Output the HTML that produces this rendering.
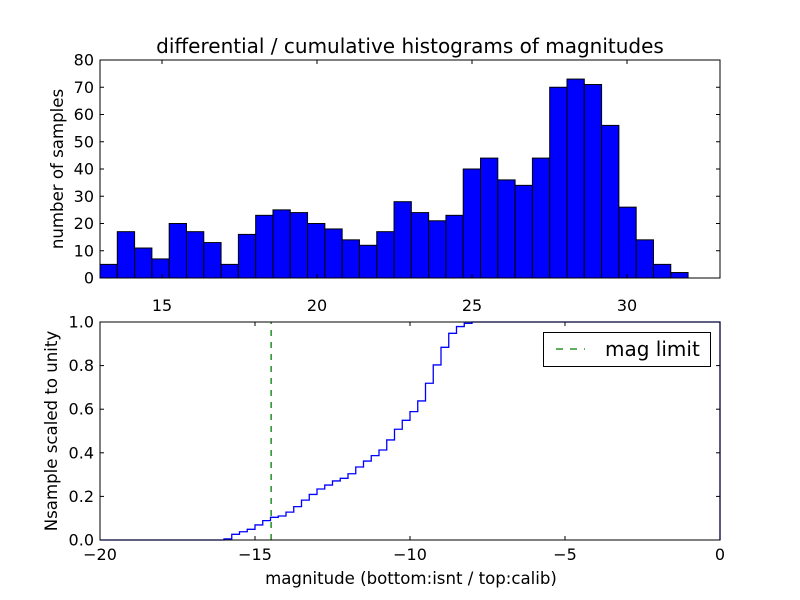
<!DOCTYPE html>
<html><head><meta charset="utf-8"><style>
body{margin:0;background:#fff}
svg{display:block;font-family:"DejaVu Sans","Liberation Sans",sans-serif}
</style></head><body>
<svg id="fig" width="800" height="600" viewBox="0 0 800 600">
<rect width="800" height="600" fill="#fff"/>
<g id="topg"></g>
<g id="botg"></g>
</svg>
<script>
const histCounts=[5,17,11,7,20,17,13,5,16,23,25,24,20,18,14,12,17,28,24,21,23,40,44,36,34,44,70,73,71,56,26,14,5,2];
const histBinStart=13.0;
const histBinEnd=31.97;
const topXTicks=[15,20,25,30];
const topYTicks=[0,10,20,30,40,50,60,70,80];
const cdfLevels=[0.005,0.026,0.038,0.049,0.069,0.089,0.104,0.110,0.128,0.153,0.183,0.209,0.234,0.252,0.271,0.283,0.304,0.335,0.362,0.387,0.413,0.459,0.508,0.549,0.589,0.638,0.719,0.803,0.884,0.948,0.979,0.994,1.0];
const cdfStart=-16.0;
const cdfEnd=-7.75;
const magLimit=-14.48;
const botXTicks=[-20,-15,-10,-5,0];
const botYTicks=[0.0,0.2,0.4,0.6,0.8,1.0];

const NS='http://www.w3.org/2000/svg';
function mk(parent,tag,attrs,text){const e=document.createElementNS(NS,tag);for(const k in attrs)e.setAttribute(k,attrs[k]);if(text!==undefined)e.textContent=String(text);parent.appendChild(e);return e;}

const T={x0:100,x1:720,y0:278,y1:60,xmin:13,xmax:33,ymin:0,ymax:80};
const tx=v=>T.x0+(v-T.xmin)/(T.xmax-T.xmin)*(T.x1-T.x0);
const ty=v=>T.y0-(v-T.ymin)/(T.ymax-T.ymin)*(T.y0-T.y1);
const topG=document.getElementById('topg');
const bw=(histBinEnd-histBinStart)/histCounts.length;
histCounts.forEach((c,i)=>{
  const a=tx(histBinStart+i*bw),b=tx(histBinStart+(i+1)*bw);
  const r=mk(topG,'rect',{x:a,y:ty(c),width:b-a,height:ty(0)-ty(c),fill:'#0000ff',stroke:'#000','stroke-width':1});
  
  
});
const tf=mk(topG,'rect',{x:T.x0,y:T.y1,width:T.x1-T.x0,height:T.y0-T.y1,fill:'none',stroke:'#000','stroke-width':1});


topXTicks.forEach(v=>{const x=tx(v);
  mk(topG,'line',{x1:x,x2:x,y1:T.y0,y2:T.y0-4,stroke:'#000'});
  mk(topG,'line',{x1:x,x2:x,y1:T.y1,y2:T.y1+4,stroke:'#000'});
  const t=mk(topG,'text',{x:x,y:311,'text-anchor':'middle','font-size':16},v);
  
  
});
topYTicks.forEach(v=>{const y=ty(v);
  mk(topG,'line',{x1:T.x0,x2:T.x0+4,y1:y,y2:y,stroke:'#000'});
  mk(topG,'line',{x1:T.x1,x2:T.x1-4,y1:y,y2:y,stroke:'#000'});
  const t=mk(topG,'text',{x:94,y:y+5.5,'text-anchor':'end','font-size':16},v);
  
  
});
const tt=mk(topG,'text',{x:410,y:53,'text-anchor':'middle','font-size':20},'differential / cumulative histograms of magnitudes');


const tyl=mk(topG,'text',{x:63,y:169,'text-anchor':'middle','font-size':16.6,transform:'rotate(-90 63 169)'},'number of samples');



const B={x0:100,x1:720,y0:540,y1:322,xmin:-20,xmax:0,ymin:0,ymax:1};
const bx=v=>B.x0+(v-B.xmin)/(B.xmax-B.xmin)*(B.x1-B.x0);
const by=v=>B.y0-(v-B.ymin)/(B.ymax-B.ymin)*(B.y0-B.y1);
const botG=document.getElementById('botg');
const sw=(cdfEnd-cdfStart)/cdfLevels.length;
let d='M'+bx(B.xmin)+','+by(0)+' L'+bx(cdfStart)+','+by(0);
cdfLevels.forEach((v,i)=>{d+=' L'+bx(cdfStart+i*sw)+','+by(v)+' L'+bx(cdfStart+(i+1)*sw)+','+by(v);});
d+=' L'+bx(B.xmax)+','+by(1)+' L'+bx(B.xmax)+','+by(0);
const cl=mk(botG,'path',{d:d,fill:'none',stroke:'#0000ff','stroke-width':1.3});


const ml=mk(botG,'line',{x1:bx(magLimit),x2:bx(magLimit),y1:by(0),y2:by(1),stroke:'#007f00','stroke-width':1.3,'stroke-dasharray':'6,6'});


const bf=mk(botG,'rect',{x:B.x0,y:B.y1,width:B.x1-B.x0,height:B.y0-B.y1,fill:'none',stroke:'#000','stroke-width':1});


botXTicks.forEach(v=>{const x=bx(v);
  mk(botG,'line',{x1:x,x2:x,y1:B.y0,y2:B.y0-4,stroke:'#000'});
  mk(botG,'line',{x1:x,x2:x,y1:B.y1,y2:B.y1+4,stroke:'#000'});
  const t=mk(botG,'text',{x:x,y:560,'text-anchor':'middle','font-size':16},v===0?'0':'\u2212'+Math.abs(v));
  
  
});
botYTicks.forEach(v=>{const y=by(v);
  mk(botG,'line',{x1:B.x0,x2:B.x0+4,y1:y,y2:y,stroke:'#000'});
  mk(botG,'line',{x1:B.x1,x2:B.x1-4,y1:y,y2:y,stroke:'#000'});
  const t=mk(botG,'text',{x:94,y:y+5.5,'text-anchor':'end','font-size':16},v.toFixed(1));
  
  
});
const bxl=mk(botG,'text',{x:411,y:584,'text-anchor':'middle','font-size':16.6},'magnitude (bottom:isnt / top:calib)');


const byl=mk(botG,'text',{x:57,y:431,'text-anchor':'middle','font-size':16.6,transform:'rotate(-90 57 431)'},'Nsample scaled to unity');


const lg=mk(botG,'g',{});


mk(lg,'rect',{x:543.5,y:332.5,width:167,height:34,fill:'#fff',stroke:'#000'});
mk(lg,'line',{x1:556,x2:585,y1:349,y2:349,stroke:'#007f00','stroke-width':1.3,'stroke-dasharray':'7,7'});
const lt=mk(lg,'text',{x:605,y:356,'font-size':20},'mag limit');


</script>
</body></html>
